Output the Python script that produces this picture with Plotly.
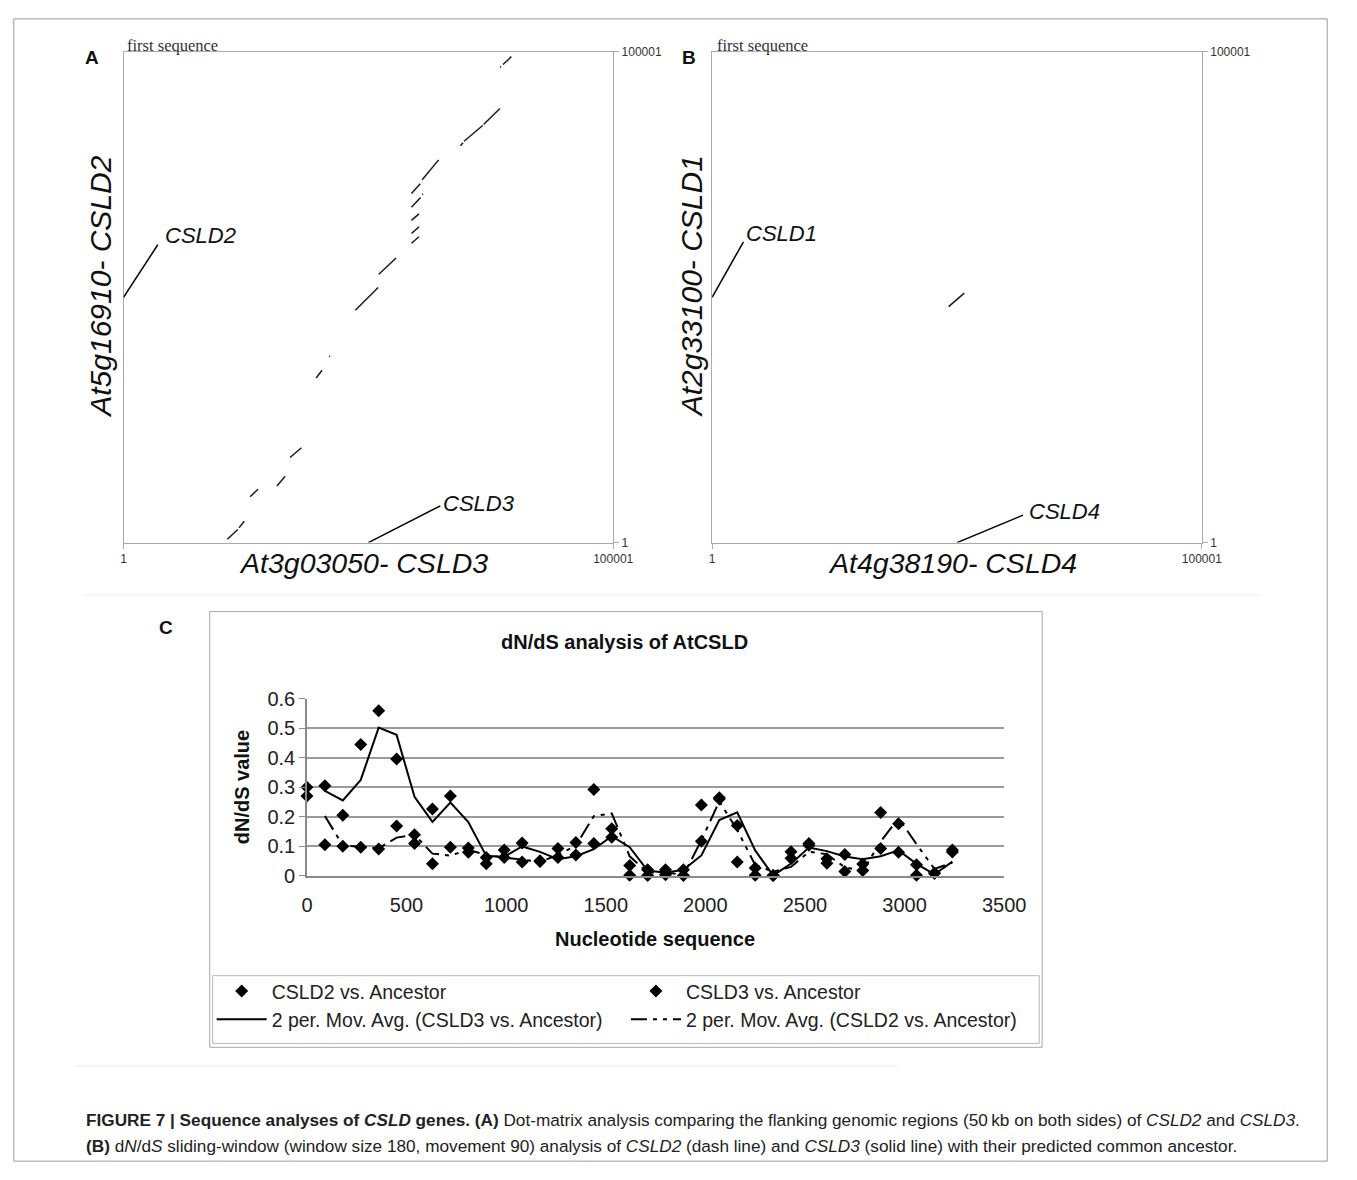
import plotly.graph_objects as go
import pandas as pd

W, H = 1357, 1180


def px(x):
    return x / W


def py(y):
    return 1 - y / H


# ---------------- Panel C data (dN/dS sliding window) ----------------
positions = [0, 90, 180, 270, 360, 450, 540, 630, 720, 810, 900, 990, 1080,
             1170, 1260, 1350, 1440, 1530, 1620, 1710, 1800, 1890, 1980,
             2070, 2160, 2250, 2340, 2430, 2520, 2610, 2700, 2790, 2880,
             2970, 3060, 3150, 3240]
csld2_vs_anc = [0.300, 0.105, 0.100, 0.096, 0.090, 0.168, 0.109, 0.040,
                0.096, 0.079, 0.061, 0.061, 0.046, 0.048, 0.092, 0.112,
                0.292, 0.130, 0.001, 0.020, 0.003, 0.000, 0.240, 0.264,
                0.046, 0.026, 0.000, 0.059, 0.103, 0.042, 0.014, 0.017,
                0.214, 0.176, 0.037, 0.008, 0.080]
csld3_vs_anc = [0.270, 0.305, 0.205, 0.445, 0.560, 0.396, 0.139, 0.226,
                0.270, 0.094, 0.040, 0.087, 0.111, 0.050, 0.061, 0.070,
                0.109, 0.159, 0.034, 0.000, 0.020, 0.020, 0.117, 0.260,
                0.170, 0.001, 0.000, 0.081, 0.109, 0.057, 0.072, 0.039,
                0.092, 0.079, 0.001, 0.008, 0.087]
x_ticks_c = [0, 500, 1000, 1500, 2000, 2500, 3000, 3500]
y_ticks_c = [0, 0.1, 0.2, 0.3, 0.4, 0.5, 0.6]
y_ticktext_c = ["0", "0.1", "0.2", "0.3", "0.4", "0.5", "0.6"]

# ---------------- Panel A data (dot-matrix alignment segments) ----------------
seg_a_x0 = [76900, 77500, 68800, 69540, 73540, 58800, 61000, 61000, 58800, 58800,
            58800, 58800, 52140, 47340, 39340, 42000, 34000, 31340, 25860, 21200, 23600]
seg_a_y0 = [96840, 97440, 80880, 81800, 85200, 71140, 73940, 70900, 68340, 65680,
            63000, 61000, 54680, 47340, 33540, 37880, 17340, 11540, 9340, 680, 3040]
seg_a_x1 = [77100, 79200, 69340, 73340, 76860, 60600, 64340, 61150, 60660, 60340,
            60340, 60340, 55660, 52000, 40540, 42150, 36340, 33000, 27460, 23340, 24660]
seg_a_y1 = [97040, 99040, 81480, 85000, 88480, 73140, 78000, 71050, 70340, 67000,
            64340, 62340, 58000, 52000, 35140, 38030, 19340, 13540, 10880, 2680, 4340]

# ---------------- Panel B data ----------------
seg_b_x0 = [48300]
seg_b_y0 = [48100]
seg_b_x1 = [51500]
seg_b_y1 = [50850]

seq_ticks = [1, 100001]
seq_ticktext = ["1", "100001"]


def seg_path(x0, y0, x1, y1):
    xs, ys = [], []
    for a, b, c, d in zip(x0, y0, x1, y1):
        xs += [a, c, None]
        ys += [b, d, None]
    return xs, ys


fig = go.Figure()

xa, ya = seg_path(seg_a_x0, seg_a_y0, seg_a_x1, seg_a_y1)
fig.add_trace(go.Scatter(x=xa, y=ya, mode="lines", xaxis="x", yaxis="y",
                         line=dict(color="#1c1c1c", width=1.5),
                         showlegend=False, hoverinfo="skip"))
xb, yb = seg_path(seg_b_x0, seg_b_y0, seg_b_x1, seg_b_y1)
fig.add_trace(go.Scatter(x=xb, y=yb, mode="lines", xaxis="x2", yaxis="y2",
                         line=dict(color="#1c1c1c", width=1.5),
                         showlegend=False, hoverinfo="skip"))

# Panel C: data markers and Excel-style 2-period moving-average trendlines
ma3 = pd.Series(csld3_vs_anc).rolling(2).mean()
ma2 = pd.Series(csld2_vs_anc).rolling(2).mean()

fig.add_trace(go.Scatter(x=positions, y=csld2_vs_anc, mode="markers",
                         name="CSLD2 vs. Ancestor", xaxis="x3", yaxis="y3",
                         legend="legend", legendgroup="g1",
                         marker=dict(symbol="diamond", size=10, color="black"),
                         cliponaxis=False))
fig.add_trace(go.Scatter(x=positions, y=csld3_vs_anc, mode="markers",
                         name="CSLD3 vs. Ancestor", xaxis="x3", yaxis="y3",
                         legend="legend2", legendgroup="g2",
                         marker=dict(symbol="diamond", size=10, color="black"),
                         cliponaxis=False))
fig.add_trace(go.Scatter(x=positions[1:], y=list(ma3[1:]), mode="lines",
                         name="2 per. Mov. Avg. (CSLD3 vs. Ancestor)",
                         xaxis="x3", yaxis="y3", legend="legend", legendgroup="g3",
                         line=dict(color="black", width=2)))
fig.add_trace(go.Scatter(x=positions[1:], y=list(ma2[1:]), mode="lines",
                         name="2 per. Mov. Avg. (CSLD2 vs. Ancestor)",
                         xaxis="x3", yaxis="y3", legend="legend2", legendgroup="g4",
                         line=dict(color="black", width=2,
                                   dash="16px,6px,4px,6px,4px,6px")))

box_col = "#aaaaaa"
seq_axis_common = dict(range=[1, 100001], showgrid=False, zeroline=False,
                       showline=True, linecolor=box_col, linewidth=1, mirror=True,
                       tickvals=seq_ticks, ticktext=seq_ticktext, ticks="outside",
                       ticklen=5, tickcolor=box_col,
                       tickfont=dict(size=12, color="#333", family="Liberation Sans"))

top_px, bot_px = 41.7, 541.7
fig.update_layout(
    xaxis=dict(domain=[px(120), px(620)], anchor="y", **seq_axis_common),
    yaxis=dict(domain=[py(bot_px), py(top_px)], anchor="x", side="right", **seq_axis_common),
    xaxis2=dict(domain=[px(721), px(1221)], anchor="y2", **seq_axis_common),
    yaxis2=dict(domain=[py(bot_px), py(top_px)], anchor="x2", side="right", **seq_axis_common),
    xaxis3=dict(domain=[px(307.3), px(1019.2)], anchor="y3", range=[0, 3500],
                tickvals=x_ticks_c, showgrid=False, zeroline=False,
                showline=True, linecolor="#8a8a8a", linewidth=1.5,
                ticks="", ticklabelstandoff=11,
                tickfont=dict(size=20, color="#222")),
    yaxis3=dict(domain=[py(881), py(701)], anchor="x3", range=[0, 0.6],
                tickvals=y_ticks_c, ticktext=y_ticktext_c,
                showgrid=True, gridcolor="#9a9a9a", gridwidth=2, zeroline=False,
                showline=True, linecolor="#8a8a8a", linewidth=1.5,
                ticks="outside", ticklen=6, tickcolor="#8a8a8a",
                tickfont=dict(size=20, color="#222")),
)

ann = []


def text(x, y, t, size, bold=False, italic=False, family="Liberation Sans",
         xanchor="center", angle=0, color="#111"):
    s = t
    if italic:
        s = "<i>" + s + "</i>"
    if bold:
        s = "<b>" + s + "</b>"
    ann.append(dict(x=px(x), y=py(y), xref="paper", yref="paper", text=s,
                    showarrow=False, xanchor=xanchor, yanchor="middle",
                    textangle=angle, font=dict(size=size, family=family, color=color)))


text(88, 47, "A", 19, bold=True)
text(697, 47, "B", 19, bold=True)
text(163, 628, "C", 19, bold=True)
text(122, 35, "first sequence", 16.5, family="Liberation Serif", xanchor="left", color="#333")
text(724, 35, "first sequence", 16.5, family="Liberation Serif", xanchor="left", color="#333")
text(160, 229, "CSLD2", 22, italic=True, xanchor="left")
text(444, 502, "CSLD3", 22, italic=True, xanchor="left")
text(754, 227, "CSLD1", 22, italic=True, xanchor="left")
text(1043, 510, "CSLD4", 22, italic=True, xanchor="left")
text(365, 562, "At3g03050- CSLD3", 28.5, italic=True)
text(97, 281, "At5g16910- CSLD2", 30, italic=True, angle=-90)
text(966, 562, "At4g38190- CSLD4", 28.5, italic=True)
text(700, 281, "At2g33100- CSLD1", 30, italic=True, angle=-90)
text(632, 643, "dN/dS analysis of AtCSLD", 20, bold=True)
text(241, 791, "dN/dS value", 20, bold=True, angle=-90)
text(663, 946, "Nucleotide sequence", 20, bold=True)
text(80, 1130, "<b>FIGURE 7 | Sequence analyses of <i>CSLD</i> genes. (A)</b> Dot-matrix analysis "
     "comparing the flanking genomic regions (50\u2009kb on both sides) of <i>CSLD2</i> and <i>CSLD3</i>.",
     17.2, xanchor="left", color="#222")
text(80, 1157, "<b>(B)</b> d<i>N</i>/d<i>S</i> sliding-window (window size 180, movement 90) analysis of "
     "<i>CSLD2</i> (dash line) and <i>CSLD3</i> (solid line) with their predicted common ancestor.",
     17.2, xanchor="left", color="#222")

shapes = [
    # pointer lines to the gene positions (centre of each 100 kb window)
    dict(type="line", xref="x", yref="y", x0=1, y0=50000, x1=7000, y1=60700,
         line=dict(color="black", width=1.5)),
    dict(type="line", xref="x", yref="y", x0=50000, y0=1, x1=64700, y1=7500,
         line=dict(color="black", width=1.5)),
    dict(type="line", xref="x2", yref="y2", x0=1, y0=50000, x1=6400, y1=61300,
         line=dict(color="black", width=1.5)),
    dict(type="line", xref="x2", yref="y2", x0=50000, y0=1, x1=63500, y1=5600,
         line=dict(color="black", width=1.5)),
    # chart C outer frame and legend frame
    dict(type="rect", xref="paper", yref="paper", x0=px(208), x1=px(1058), y0=py(1056), y1=py(612),
         line=dict(color="#a8a8a8", width=1)),
    dict(type="rect", xref="paper", yref="paper", x0=px(211), x1=px(1055), y0=py(1052), y1=py(983),
         line=dict(color="#b8b8b8", width=1)),
    # faint separators
    dict(type="line", xref="paper", yref="paper", x0=px(80), x1=px(1280), y0=py(595), y1=py(595),
         line=dict(color="#ececec", width=1)),
    dict(type="line", xref="paper", yref="paper", x0=px(70), x1=px(910), y0=py(1075), y1=py(1075),
         line=dict(color="#ececec", width=1)),
    # figure frame
    dict(type="rect", xref="paper", yref="paper", x0=px(8), x1=px(1349), y0=py(1172), y1=py(8),
         line=dict(color="#9a9a9a", width=1)),
]

leg_common = dict(orientation="v", xanchor="left", yanchor="top", itemwidth=50,
                  font=dict(size=19.5, color="#222"), bgcolor="rgba(0,0,0,0)",
                  tracegroupgap=7, traceorder="normal")
fig.update_layout(
    width=W, height=H, autosize=False,
    margin=dict(l=0, r=0, t=0, b=0),
    paper_bgcolor="white", plot_bgcolor="white",
    font=dict(family="Liberation Sans, Arial, sans-serif", color="#222"),
    hovermode=False,
    annotations=ann, shapes=shapes,
    showlegend=True,
    legend=dict(x=px(210), y=py(979), **leg_common),
    legend2=dict(x=px(633), y=py(979), **leg_common),
)

fig.write_html("out.html", config={"displayModeBar": False},
               post_script="document.body.style.margin='0px';"
                           "document.body.style.padding='0px';"
                           "document.body.style.overflow='hidden';")
